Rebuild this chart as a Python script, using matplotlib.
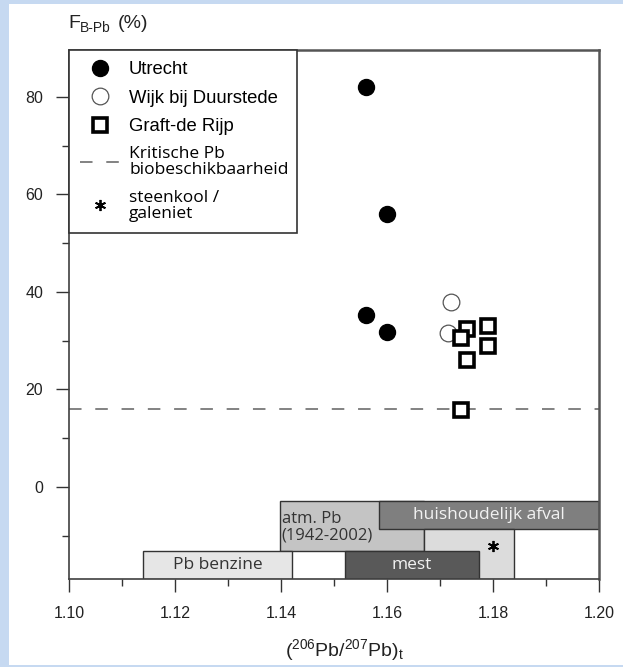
import matplotlib
matplotlib.use('Agg')
import matplotlib.pyplot as plt
from matplotlib.patches import Rectangle
from matplotlib.ticker import MultipleLocator, FormatStrFormatter

plt.rcParams['font.family'] = ['Liberation Sans', 'DejaVu Sans']
plt.rcParams['mathtext.fontset'] = 'custom'
plt.rcParams['mathtext.rm'] = 'Liberation Sans'
plt.rcParams['mathtext.it'] = 'Liberation Sans:italic'
plt.rcParams['mathtext.bf'] = 'Liberation Sans:bold'

# measured samples
utrecht_x = [1.156, 1.160, 1.156, 1.160]
utrecht_y = [82.0, 56.0, 35.2, 31.7]
wijk_x = [1.172, 1.1716]
wijk_y = [38.0, 31.5]
graft_x = [1.175, 1.174, 1.179, 1.179, 1.175, 1.174]
graft_y = [32.3, 30.5, 32.9, 28.9, 26.0, 15.8]
critical_f = 16.0

# source ranges (Pb isotope ratio x F range)
src_names = ['atm. Pb\n(1942-2002)', 'huishoudelijk afval', 'steenkool / galeniet', 'mest', 'Pb benzine']
src_x0 = [1.1398, 1.1584, 1.1670, 1.1520, 1.1140]
src_x1 = [1.1670, 1.2000, 1.1840, 1.1773, 1.1421]
src_y0 = [-13.1, -8.7, -19.0, -19.0, -19.0]
src_y1 = [-3.0, -3.0, -8.7, -13.1, -13.1]
src_colors = ['#c4c4c4', '#7f7f7f', '#dcdcdc', '#595959', '#e6e6e6']
src_text = ['#333333', '#f2f2f2', None, '#f2f2f2', '#333333']
star_x = [1.180]
star_y = [-12.2]

legend_labels = ['Utrecht', 'Wijk bij Duurstede', 'Graft-de Rijp',
                 'Kritische Pb\nbiobeschikbaarheid', 'steenkool /\ngaleniet']

W, H = 623, 667
fig = plt.figure(figsize=(W / 100, H / 100), dpi=100, facecolor='#c6d9f1')
fig.add_artist(Rectangle((9 / W, 2 / H), 1, 1 - 6 / H, transform=fig.transFigure,
                         facecolor='white', edgecolor='none', zorder=-5))
ax = fig.add_axes([69 / W, 1 - 579 / H, 530 / W, 529 / H])

widths = [b - a for a, b in zip(src_x0, src_x1)]
heights = [b - a for a, b in zip(src_y0, src_y1)]
ax.bar(src_x0, heights, width=widths, bottom=src_y0, align='edge',
       color=src_colors, edgecolor='#333333', linewidth=1.0, zorder=2)
for i in range(len(src_names)):
    if src_text[i] is None:
        continue
    cy = src_y0[i] + heights[i] / 2
    if i == 0:
        ax.text(src_x0[i] + 0.0003, cy - 0.3, src_names[i], ha='left', va='center',
                fontsize=12, family=['Open Sans'], color=src_text[i],
                linespacing=1.05, zorder=3)
    else:
        ax.text(src_x0[i] + widths[i] / 2, cy, src_names[i], ha='center', va='center',
                fontsize=12.5, family=['Open Sans'], color=src_text[i], zorder=3)

star, = ax.plot(star_x, star_y, ls='none', marker=(6, 2, 0), ms=8, mec='black',
                mew=1.3, zorder=4)

crit = ax.axhline(critical_f, color='#606060', lw=1.1, ls=(0, (8.2, 9.0)), zorder=1)

p_utr, = ax.plot(utrecht_x, utrecht_y, ls='none', marker='o', ms=11.5,
                 mfc='black', mec='black', zorder=5)
p_wijk, = ax.plot(wijk_x, wijk_y, ls='none', marker='o', ms=12,
                  mfc='white', mec='#555555', mew=0.9, zorder=5)
p_graft, = ax.plot(graft_x, graft_y, ls='none', marker='s', ms=10,
                   mfc='white', mec='black', mew=2.6, zorder=6)

ax.set_xlim(1.10, 1.20)
ax.set_ylim(-18.9, 89.6)
ax.xaxis.set_major_locator(MultipleLocator(0.02))
ax.xaxis.set_minor_locator(MultipleLocator(0.01))
ax.yaxis.set_major_locator(MultipleLocator(20))
ax.yaxis.set_minor_locator(MultipleLocator(10))
ax.xaxis.set_major_formatter(FormatStrFormatter('%.2f'))
ax.tick_params(which='major', length=9.5, width=1.0, color='#333333',
               labelsize=11.5, labelcolor='#222222')
ax.tick_params(which='minor', length=5, width=1.0, color='#333333')
ax.tick_params(axis='x', which='major', pad=10)
ax.tick_params(axis='y', which='major', pad=9)
for s in ax.spines.values():
    s.set_color('#404040')
    s.set_linewidth(1.2)
for k in ('top', 'right'):
    ax.spines[k].set_color('#555555')
    ax.spines[k].set_linewidth(1.8)

leg = ax.legend([p_utr, p_wijk, p_graft, crit, star], legend_labels,
                loc='upper left', bbox_to_anchor=(0, 0, 0.43, 1), mode='expand',
                borderaxespad=0, fancybox=False, framealpha=1, edgecolor='#333333',
                fontsize=13.3, handlelength=2.2, handletextpad=0.45, borderpad=0.6,
                labelspacing=0.62)
leg.get_frame().set_linewidth(1.2)
for t in leg.get_texts()[3:]:
    t.set_fontfamily(['Open Sans'])
    t.set_fontsize(12.5)
    t.set_linespacing(1.0)

# axis titles
fig.text(68 / W, 1 - 28 / H, 'F', fontsize=14, va='baseline', color='#222222')
fig.text(80 / W, 1 - 32 / H, 'B-Pb', fontsize=10, va='baseline', color='#222222')
fig.text(118 / W, 1 - 28 / H, '(%)', fontsize=14, va='baseline', color='#222222')
fig.text(344 / W, 1 - 650 / H,
         r'($^{\mathregular{206}}$Pb/$^{\mathregular{207}}$Pb)$_{\mathregular{t}}$',
         fontsize=14, ha='center', va='center', color='#222222')

fig.savefig('out.png', dpi=100, facecolor=fig.get_facecolor())
